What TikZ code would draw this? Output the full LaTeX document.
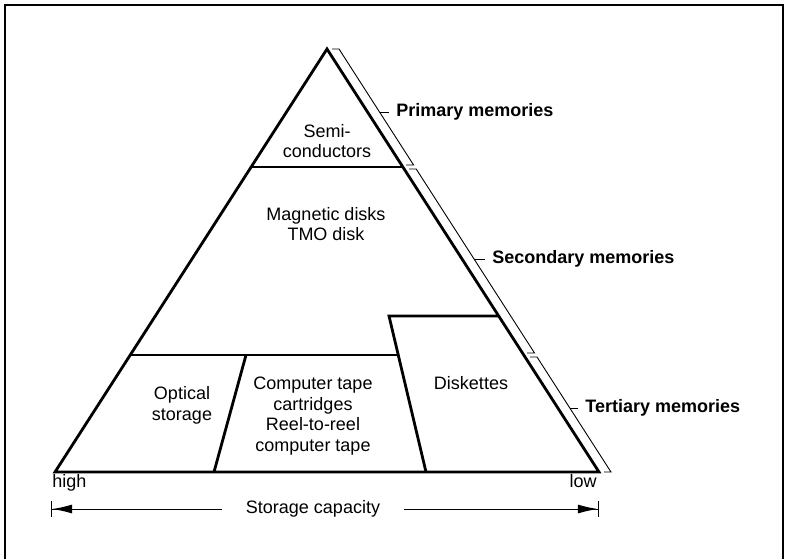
\documentclass[tikz,border=0pt]{standalone}
\usepackage{fontspec}
\setmainfont{Liberation Sans}
\usetikzlibrary{arrows.meta}

\begin{document}
\begin{tikzpicture}[x=0.5pt,y=-0.5pt,
  every node/.style={font=\fontsize{9pt}{10.4pt}\selectfont,align=center,inner sep=0pt},
  edge/.style={line width=1.4pt,line join=miter},
  bracket/.style={line width=0.45pt},
  memlabel/.style={anchor=west,inner xsep=3.5pt,font=\fontsize{9pt}{10.4pt}\selectfont\bfseries},
  axisarrow/.style={line width=0.5pt,-{Latex[length=10pt,width=4.5pt]Bar[width=8pt,line width=0.6pt]}}]
\useasboundingbox (0,0) rectangle (785,559);
% frame (open at the bottom)
\draw[line width=1pt] (5,559) -- (5,5) -- (783,5) -- (783,559);
% pyramid outline
\coordinate (apex) at (327,49);
\coordinate (bl) at (55,472);
\coordinate (br) at (599,472);
\draw[edge] (bl) -- (apex) -- (br) -- cycle;
% layer boundaries
\draw[edge] (251.1,167) -- (402.9,167);
\draw[edge] (130.2,355) -- (398.5,355);
\draw[edge] (426,472) -- (389,316) -- (498.7,316);
\draw[edge] (246,355) -- (214,472);
% region texts
\node (semi) at (327,141) {Semi-\\conductors};
\node (magnetic) at (326,224) {Magnetic disks\\TMO disk};
\node (optical) at (182,405) {Optical\\storage};
\node (tape) at (313,416) {Computer tape\\cartridges\\Reel-to-reel\\computer tape};
\node (diskettes) at (471,383) {Diskettes};
% brackets along the right side
\draw[bracket] (332,49) -- (339,49) -- (413.6,165) -- (406,165);
\draw[bracket] (409,169) -- (416.2,169) -- (534.5,353) -- (527,353);
\draw[bracket] (530,357) -- (537,357) -- (611,472) -- (604,472);
% memory levels
\coordinate (pm) at (379.5,112);
\coordinate (sm) at (474,259);
\coordinate (tm) at (569.8,408);
\node[memlabel] (primary) at (389,112) {Primary memories};
\node[memlabel] (secondary) at (485,259) {Secondary memories};
\node[memlabel] (tertiary) at (578,408) {Tertiary memories};
\draw[bracket] (pm) -- (primary.west);
\draw[bracket] (sm) -- (secondary.west);
\draw[bracket] (tm) -- (tertiary.west);
% capacity axis
\node[anchor=base west] (high) at (52,487) {high};
\node[anchor=base east] (low) at (597,487) {low};
\node[inner xsep=12pt] (cap) at (313,509) {Storage capacity};
\coordinate (capL) at (51,509);
\coordinate (capR) at (599,509);
\draw[axisarrow] (cap) -- (capL);
\draw[axisarrow] (cap) -- (capR);
\end{tikzpicture}
\end{document}
